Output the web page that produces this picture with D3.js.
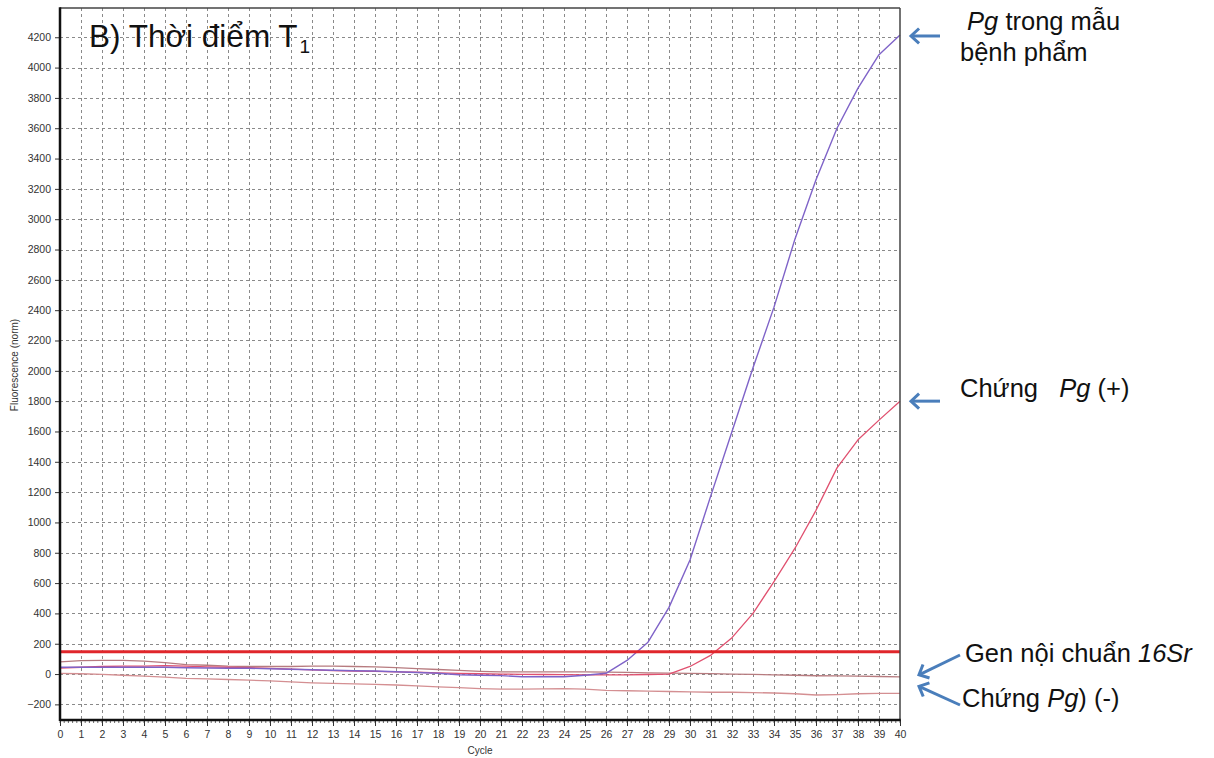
<!DOCTYPE html>
<html>
<head>
<meta charset="utf-8">
<script src="https://cdn.jsdelivr.net/npm/d3@7"></script>
<style>
  html, body { margin: 0; padding: 0; background: #fff; }
  svg { display: block; font-family: "Liberation Sans", Arial, sans-serif; }
</style>
</head>
<body>
<svg id="chart" width="1214" height="758"></svg>
<script>
// Amplification cycles (x axis)
const cycles = [0,1,2,3,4,5,6,7,8,9,10,11,12,13,14,15,16,17,18,19,20,
                21,22,23,24,25,26,27,28,29,30,31,32,33,34,35,36,37,38,39,40];

// Normalised fluorescence per cycle
const pgSample = [45,45,45,45,45,45,42,40,38,38,35,32,28,25,22,20,15,10,5,-5,-8,
                  -10,-18,-18,-18,-8,5,90,210,440,752,1180,1600,2020,2420,2870,3260,3600,3865,4085,4215];
const pgPositive = [40,45,50,52,52,55,52,48,45,42,38,32,28,22,20,18,15,12,8,5,2,
                    0,-2,-3,-4,-5,-5,-5,-3,0,50,125,240,400,610,830,1080,1360,1545,1675,1800];
const gen16Sr = [80,88,90,90,85,75,62,58,52,50,50,50,52,52,50,48,42,36,30,24,18,
                 15,14,14,14,14,13,11,8,6,5,3,0,-2,-5,-8,-11,-12,-14,-16,-18];
const pgNegative = [5,2,-2,-8,-14,-20,-28,-32,-36,-40,-45,-52,-58,-62,-65,-68,-72,-78,-84,-90,-96,
                    -100,-100,-98,-96,-100,-108,-110,-112,-115,-117,-120,-120,-122,-125,-130,-138,-135,-130,-128,-127];

// Detection threshold
const threshold = 147;

// Axis tick labels
const yTicks = [-200,0,200,400,600,800,1000,1200,1400,1600,1800,2000,2200,2400,2600,2800,3000,3200,3400,3600,3800,4000,4200];
const xTicks = cycles;

const svg = d3.select("#chart");
const plotL = 60, plotR = 900, plotT = 8, plotB = 720;

const x = d3.scaleLinear().domain([0, 40]).range([plotL, plotR]);
const y = d3.scaleLinear().domain([-303, 4393]).range([plotB, plotT]);

// Dashed grid
const grid = svg.append("g").attr("stroke", "#8a8a8a").attr("stroke-width", 1)
  .attr("stroke-dasharray", "3,3");
grid.selectAll("line.v").data(xTicks.filter(d => d > 0 && d < 40)).join("line")
  .attr("class", "v")
  .attr("x1", d => Math.round(x(d)) + 0.5).attr("x2", d => Math.round(x(d)) + 0.5)
  .attr("y1", plotT).attr("y2", plotB);
grid.selectAll("line.h").data(yTicks).join("line")
  .attr("class", "h")
  .attr("x1", plotL).attr("x2", plotR)
  .attr("y1", d => Math.round(y(d)) + 0.5).attr("y2", d => Math.round(y(d)) + 0.5);

// Axes
const yAxis = d3.axisLeft(y).tickValues(yTicks).tickSize(5).tickPadding(4).tickFormat(d3.format("d"));
const gy = svg.append("g").attr("transform", `translate(${plotL},0)`).call(yAxis);
gy.select(".domain").remove();
gy.selectAll("text").attr("font-size", 10.5).attr("fill", "#333")
  .attr("font-family", "'Liberation Sans', Arial, sans-serif");
gy.selectAll("line").attr("stroke", "#333");

const minor = d3.range(0, 40.01, 0.2);
svg.append("g").selectAll("line").data(minor).join("line")
  .attr("x1", d => x(d)).attr("x2", d => x(d))
  .attr("y1", plotB).attr("y2", plotB + 3)
  .attr("stroke", "#444").attr("stroke-width", 0.8);

const xAxis = d3.axisBottom(x).tickValues(xTicks).tickSize(6).tickPadding(5);
const gx = svg.append("g").attr("transform", `translate(0,${plotB})`).call(xAxis);
gx.select(".domain").remove();
gx.selectAll("text").attr("font-size", 10.5).attr("fill", "#333")
  .attr("font-family", "'Liberation Sans', Arial, sans-serif");
gx.selectAll("line").attr("stroke", "#333");

svg.append("text").attr("x", (plotL + plotR) / 2).attr("y", 754)
  .attr("text-anchor", "middle").attr("font-size", 10).attr("fill", "#333").text("Cycle");
svg.append("text").attr("transform", "translate(18,365) rotate(-90)")
  .attr("text-anchor", "middle").attr("font-size", 10).attr("fill", "#333")
  .text("Fluorescence (norm)");

// Amplification curves
const line = d3.line().x((d, i) => x(cycles[i])).y(d => y(d));
const series = [
  { values: pgNegative, color: "#d48f92", width: 1.3 },
  { values: gen16Sr,   color: "#b77b7f", width: 1.3 },
  { values: pgPositive, color: "#e0506f", width: 1.3 },
  { values: pgSample,  color: "#7f63c8", width: 1.4 }
];
svg.append("g").selectAll("path").data(series).join("path")
  .attr("d", d => line(d.values))
  .attr("fill", "none")
  .attr("stroke", d => d.color)
  .attr("stroke-width", d => d.width)
  .attr("stroke-linejoin", "round");

// Threshold line
svg.append("line")
  .attr("x1", plotL).attr("x2", plotR)
  .attr("y1", y(threshold)).attr("y2", y(threshold))
  .attr("stroke", "#e0262b").attr("stroke-width", 3);

// Plot frame
svg.append("line").attr("x1", plotL).attr("x2", plotR).attr("y1", plotT).attr("y2", plotT)
  .attr("stroke", "#444").attr("stroke-width", 1.5);
svg.append("line").attr("x1", plotR).attr("x2", plotR).attr("y1", plotT).attr("y2", plotB)
  .attr("stroke", "#444").attr("stroke-width", 1.5);
svg.append("line").attr("x1", plotL).attr("x2", plotL).attr("y1", plotT - 0.75).attr("y2", plotB + 1)
  .attr("stroke", "#111").attr("stroke-width", 2.5);
svg.append("line").attr("x1", plotL).attr("x2", plotR + 0.75).attr("y1", plotB).attr("y2", plotB)
  .attr("stroke", "#111").attr("stroke-width", 2.5);

// Panel title
const title = svg.append("text").attr("x", 89).attr("y", 47)
  .attr("font-size", 31.5).attr("fill", "#111");
title.append("tspan").text("B) Thời điểm T");
title.append("tspan").attr("font-size", 19).attr("dy", 6).attr("dx", 2).text("1");

// Arrows pointing at the curve ends
const last = a => a[a.length - 1];
const arrows = [
  { x1: 940, y1: y(last(pgSample)) + 1, x2: 911, y2: y(last(pgSample)) + 1 },
  { x1: 940, y1: y(last(pgPositive)), x2: 911, y2: y(last(pgPositive)) },
  { x1: 960, y1: 655, x2: 919, y2: y(last(gen16Sr)) - 2 },
  { x1: 960, y1: 705, x2: 919, y2: y(last(pgNegative)) - 7 }
];
const ag = svg.append("g").attr("stroke", "#4a7ebb").attr("stroke-width", 3).attr("fill", "none");
arrows.forEach(a => {
  const ang = Math.atan2(a.y2 - a.y1, a.x2 - a.x1);
  const len = 11, spread = Math.PI / 4.2;
  const p1 = [a.x2 - len * Math.cos(ang - spread), a.y2 - len * Math.sin(ang - spread)];
  const p2 = [a.x2 - len * Math.cos(ang + spread), a.y2 - len * Math.sin(ang + spread)];
  ag.append("line").attr("x1", a.x1).attr("y1", a.y1).attr("x2", a.x2).attr("y2", a.y2);
  ag.append("path").attr("d", `M${p1[0]},${p1[1]} L${a.x2},${a.y2} L${p2[0]},${p2[1]}`)
    .attr("stroke-linejoin", "miter");
});

// Annotation labels (italic runs marked)
const labels = [
  { x: 960, y: 30, parts: [[" ", false], ["Pg", true], [" trong mẫu", false]] },
  { x: 960, y: 61, parts: [["bệnh phẩm", false]] },
  { x: 960, y: 397, parts: [["Chứng   ", false], ["Pg", true], [" (+)", false]] },
  { x: 965, y: 662, parts: [["Gen nội chuẩn ", false], ["16Sr", true]] },
  { x: 962, y: 707, parts: [["Chứng ", false], ["Pg", true], [") (-)", false]] }
];
const lg = svg.append("g").attr("font-size", 25.5).attr("fill", "#111");
labels.forEach(l => {
  const t = lg.append("text").attr("x", l.x).attr("y", l.y).style("white-space", "pre");
  l.parts.forEach(([s, it]) => t.append("tspan").attr("font-style", it ? "italic" : "normal").text(s));
});
</script>
</body>
</html>
